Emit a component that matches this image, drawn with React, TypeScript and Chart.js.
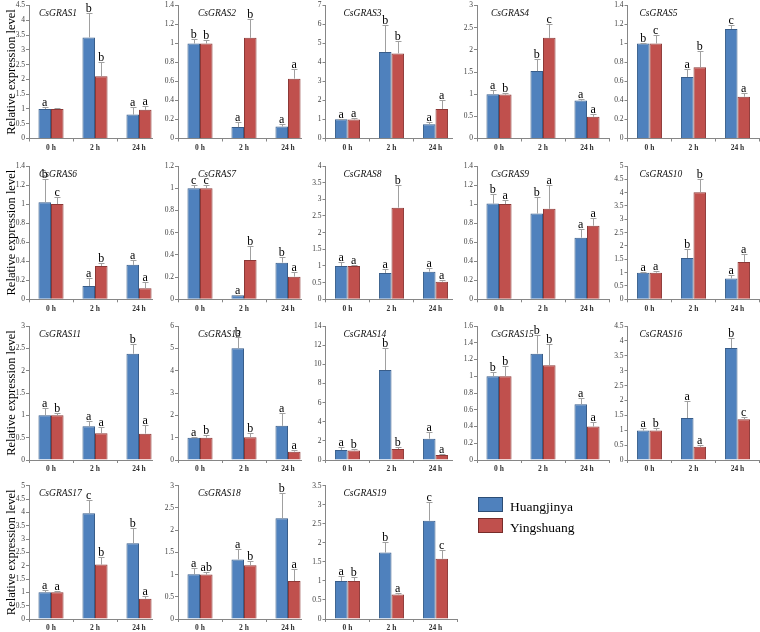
import React, { useEffect, useRef } from "react";
import { Chart, registerables } from "chart.js";

Chart.register(...registerables);

// ---------- data ----------
const TIMES = ["0 h", "2 h", "24 h"];
const SERIES = ["Huangjinya", "Yingshuang"];
const GENES = [
  "CsGRAS1", "CsGRAS2", "CsGRAS3", "CsGRAS4", "CsGRAS5",
  "CsGRAS6", "CsGRAS7", "CsGRAS8", "CsGRAS9", "CsGRAS10",
  "CsGRAS11", "CsGRAS13", "CsGRAS14", "CsGRAS15", "CsGRAS16",
  "CsGRAS17", "CsGRAS18", "CsGRAS19",
];

const huangjinya = [
  [1.0, 3.42, 0.81], [1.0, 0.12, 0.126], [1.01, 4.55, 0.75], [1.0, 1.52, 0.855], [1.0, 0.648, 1.153],
  [1.02, 0.14, 0.362], [1.0, 0.036, 0.33], [1.0, 0.79, 0.83], [1.005, 0.9, 0.647], [1.0, 1.55, 0.78],
  [1.0, 0.754, 2.38], [1.0, 5.0, 1.53], [1.05, 9.4, 2.23], [1.0, 1.27, 0.665], [0.99, 1.41, 3.76],
  [1.0, 3.97, 2.84], [1.005, 1.34, 2.265], [1.0, 1.745, 2.58],
];
const huangjinyaSD = [
  [0.05, 0.83, 0.26], [0.05, 0.05, 0.025], [0.04, 1.44, 0.12], [0.09, 0.27, 0.04], [0.01, 0.08, 0.045],
  [0.24, 0.08, 0.055], [0.03, 0.006, 0.05], [0.11, 0.11, 0.12], [0.105, 0.17, 0.088], [0.03, 0.34, 0.12],
  [0.16, 0.126, 0.22], [0.05, 0.52, 0.58], [0.31, 2.34, 0.66], [0.05, 0.22, 0.08], [0.1, 0.56, 0.34],
  [0.08, 0.49, 0.56], [0.145, 0.235, 0.575], [0.12, 0.285, 0.5],
];
const yingshuang = [
  [1.0, 2.11, 0.97], [1.0, 1.06, 0.63], [1.0, 4.48, 1.55], [0.99, 2.27, 0.49], [1.0, 0.75, 0.44],
  [1.0, 0.35, 0.116], [1.0, 0.354, 0.204], [1.0, 2.75, 0.53], [1.0, 0.95, 0.773], [1.0, 4.02, 1.4],
  [1.0, 0.6, 0.59], [1.0, 1.02, 0.375], [1.0, 1.15, 0.52], [1.0, 1.13, 0.4], [0.99, 0.445, 1.37],
  [1.0, 2.04, 0.76], [1.0, 1.21, 0.855], [1.0, 0.646, 1.58],
];
const yingshuangSD = [
  [0.04, 0.49, 0.12], [0.04, 0.2, 0.1], [0.06, 0.66, 0.5], [0.04, 0.31, 0.07], [0.085, 0.17, 0.04],
  [0.07, 0.03, 0.065], [0.025, 0.123, 0.042], [0.03, 0.68, 0.05], [0.04, 0.25, 0.077], [0.06, 0.49, 0.3],
  [0.045, 0.13, 0.19], [0.14, 0.18, 0.085], [0.15, 0.21, 0.07], [0.12, 0.26, 0.05], [0.08, 0.075, 0.08],
  [0.05, 0.28, 0.09], [0.065, 0.09, 0.27], [0.1, 0.034, 0.22],
];
const huangjinyaLetters = [
  ["a", "b", "a"], ["b", "a", "a"], ["a", "b", "a"], ["a", "b", "a"], ["b", "a", "c"],
  ["b", "a", "a"], ["c", "a", "b"], ["a", "a", "a"], ["b", "b", "a"], ["a", "b", "a"],
  ["a", "a", "b"], ["a", "b", "a"], ["a", "b", "a"], ["b", "b", "a"], ["a", "a", "b"],
  ["a", "c", "b"], ["a", "a", "b"], ["a", "b", "c"],
];
const yingshuangLetters = [
  ["", "b", "a"], ["b", "b", "a"], ["a", "b", "a"], ["b", "c", "a"], ["c", "b", "a"],
  ["c", "b", "a"], ["c", "b", "a"], ["a", "b", "a"], ["a", "a", "a"], ["a", "b", "a"],
  ["b", "a", "a"], ["b", "b", "a"], ["b", "b", "a"], ["b", "b", "a"], ["b", "a", "c"],
  ["a", "b", "a"], ["ab", "b", "a"], ["b", "a", "c"],
];
const Y_MAX = [4.5, 1.4, 7, 3, 1.4, 1.4, 1.2, 4, 1.4, 5, 3, 6, 14, 1.6, 4.5, 5, 3, 3.5];
const Y_STEP = [0.5, 0.2, 1, 0.5, 0.2, 0.2, 0.2, 0.5, 0.2, 0.5, 0.5, 1, 2, 0.2, 0.5, 0.5, 0.5, 0.5];
const Y_TITLE = "Relative expression level";

// ---------- layout ----------
const COL_AXIS = [29, 178, 325.5, 477, 627.5];
const CANVAS_LEFT = [0, 153, 302, 453, 610];
const ROW_TOP = [5, 166, 326, 485.7];
const ROW_ZERO = [138.5, 299.3, 460, 619];
const CAT_W = 44;
const TITLE_DX = [10, 20, 18, 14, 12];
const FONT = "'Liberation Serif', 'Times New Roman', serif";
const AXIS_GREY = "#868686";

Chart.defaults.font.family = FONT;

function makeOverlay(i: number, col: number) {
  return {
    id: "overlay" + i,
    afterDatasetsDraw(chart: any) {
      const ctx = chart.ctx;
      const ys = chart.scales.y;
      const means = [huangjinya[i], yingshuang[i]];
      const sds = [huangjinyaSD[i], yingshuangSD[i]];
      const letters = [huangjinyaLetters[i], yingshuangLetters[i]];
      ctx.save();
      for (let d = 0; d < 2; d++) {
        const meta = chart.getDatasetMeta(d);
        meta.data.forEach((el: any, j: number) => {
          const x = Math.round(el.x) + 0.5;
          const yb = el.y;
          const yt = Math.round(ys.getPixelForValue(means[d][j] + sds[d][j])) + 0.5;
          ctx.strokeStyle = "#A0A0A0";
          ctx.lineWidth = 1;
          ctx.beginPath();
          ctx.moveTo(x, yb);
          ctx.lineTo(x, yt);
          ctx.moveTo(x - 3, yt);
          ctx.lineTo(x + 3, yt);
          ctx.stroke();
          const t = letters[d][j];
          if (t) {
            ctx.fillStyle = "#000";
            ctx.font = "12px " + FONT;
            ctx.textAlign = "center";
            ctx.textBaseline = "alphabetic";
            ctx.fillText(t, el.x, yt - 2);
          }
        });
      }
      ctx.fillStyle = "#111";
      ctx.font = "italic 9.5px " + FONT;
      ctx.textAlign = "left";
      ctx.textBaseline = "middle";
      ctx.fillText(GENES[i], chart.chartArea.left + TITLE_DX[col], chart.chartArea.top + 8);
      ctx.restore();
    },
  };
}

function Panel({ i }: { i: number }) {
  const ref = useRef<HTMLCanvasElement>(null);
  const row = Math.floor(i / 5);
  const col = i % 5;
  const left = CANVAS_LEFT[col];
  const axisX = COL_AXIS[col];
  const top = Math.max(0, Math.floor(ROW_TOP[row] - 6));
  const bottom = Math.min(632, Math.ceil(ROW_ZERO[row] + 13));
  const width = Math.ceil(axisX + 3 * CAT_W + 1 - left);
  const height = bottom - top;

  useEffect(() => {
    const yW = axisX - left;
    const xH = bottom - ROW_ZERO[row];
    const padTop = ROW_TOP[row] - top;
    const padRight = width - (yW + 3 * CAT_W);
    const chart = new Chart(ref.current as HTMLCanvasElement, {
      type: "bar",
      data: {
        labels: TIMES,
        datasets: [
          {
            label: SERIES[0],
            data: huangjinya[i],
            backgroundColor: "#4F81BD",
            borderColor: "#385D8A",
            borderWidth: 1,
            categoryPercentage: 0.57,
            barPercentage: 1,
          },
          {
            label: SERIES[1],
            data: yingshuang[i],
            backgroundColor: "#C0504D",
            borderColor: "#8C3836",
            borderWidth: 1,
            categoryPercentage: 0.57,
            barPercentage: 1,
          },
        ],
      },
      options: {
        responsive: false,
        animation: false,
        events: [],
        layout: { padding: { top: padTop, right: padRight, left: 0, bottom: 0 } },
        plugins: {
          legend: { display: false },
          tooltip: { enabled: false },
          title: { display: false },
        },
        scales: {
          x: {
            type: "category",
            offset: true,
            grid: {
              display: true,
              drawOnChartArea: false,
              drawTicks: true,
              tickLength: 3,
              color: AXIS_GREY,
              offset: true,
            },
            border: { display: true, color: AXIS_GREY, width: 1 },
            ticks: {
              color: "#333",
              font: { size: 7.5, weight: "bold", family: FONT },
              padding: 2,
              maxRotation: 0,
              autoSkip: false,
            },
            afterFit: (s: any) => {
              s.height = xH;
            },
          },
          y: {
            min: 0,
            max: Y_MAX[i],
            grid: {
              display: true,
              drawOnChartArea: false,
              drawTicks: true,
              tickLength: 3,
              color: AXIS_GREY,
            },
            border: { display: true, color: AXIS_GREY, width: 1 },
            ticks: {
              stepSize: Y_STEP[i],
              color: "#404040",
              font: { size: 7.5, family: FONT },
              padding: 1,
              callback: (v: any) => String(Math.round(Number(v) * 100) / 100),
            },
            title: {
              display: col === 0,
              text: Y_TITLE,
              color: "#000",
              font: { size: 12.5, family: FONT, lineHeight: 1.2 },
              padding: { top: 4, bottom: 0 },
            },
            afterFit: (s: any) => {
              s.width = yW;
            },
          },
        },
      },
      plugins: [makeOverlay(i, col)],
    } as any);
    return () => chart.destroy();
  }, []);

  return (
    <canvas
      ref={ref}
      width={width}
      height={height}
      style={{ position: "absolute", left, top, width, height, background: "#fff" }}
    />
  );
}

export default function App() {
  return (
    <div
      style={{
        position: "fixed",
        left: 0,
        top: 0,
        width: 760,
        height: 632,
        overflow: "hidden",
        background: "#fff",
      }}
    >
      {GENES.map((g, i) => (
        <Panel key={g} i={i} />
      ))}
      <div
        style={{
          position: "absolute",
          left: 478,
          top: 497,
          width: 25,
          height: 15,
          background: "#4F81BD",
          border: "1px solid #2C4D75",
          boxSizing: "border-box",
        }}
      />
      <div
        style={{
          position: "absolute",
          left: 510,
          top: 498,
          font: "13.5px " + FONT,
          lineHeight: "17px",
          color: "#000",
          whiteSpace: "nowrap",
        }}
      >
        {SERIES[0]}
      </div>
      <div
        style={{
          position: "absolute",
          left: 478,
          top: 518,
          width: 25,
          height: 15,
          background: "#C0504D",
          border: "1px solid #772C2A",
          boxSizing: "border-box",
        }}
      />
      <div
        style={{
          position: "absolute",
          left: 510,
          top: 518.5,
          font: "13.5px " + FONT,
          lineHeight: "17px",
          color: "#000",
          whiteSpace: "nowrap",
        }}
      >
        {SERIES[1]}
      </div>
    </div>
  );
}
